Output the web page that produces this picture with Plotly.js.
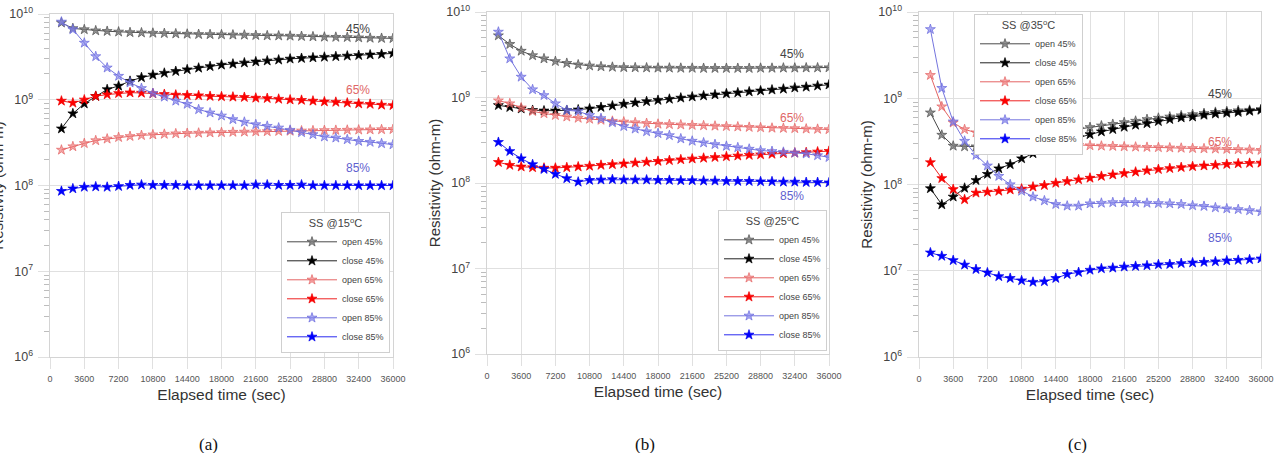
<!DOCTYPE html>
<html>
<head>
<meta charset="utf-8">
<script src="https://cdn.plot.ly/plotly-3.0.1.min.js"></script>
<style>
  html, body { margin: 0; padding: 0; background: #fff; overflow: hidden; }
  #chart { width: 1298px; height: 453px; margin-left: -20px; }
</style>
</head>
<body>
<div id="chart"></div>
<script>
// Sampling times (s)
const TIME = [1200, 2400, 3600, 4800, 6000, 7200, 8400, 9600, 10800, 12000,
  13200, 14400, 15600, 16800, 18000, 19200, 20400, 21600, 22800, 24000,
  25200, 26400, 27600, 28800, 30000, 31200, 32400, 33600, 34800, 36000];

const X_TICKS = [0, 3600, 7200, 10800, 14400, 18000, 21600, 25200, 28800, 32400, 36000];

// Resistivity (ohm-m), SS @15°C
const A_OPEN45 = [7.9e9, 6.8e9, 6.6e9, 6.4e9, 6.3e9, 6.2e9, 6.1e9, 6.05e9, 6.0e9, 5.95e9,
  5.9e9, 5.85e9, 5.8e9, 5.78e9, 5.75e9, 5.72e9, 5.7e9, 5.65e9, 5.6e9, 5.58e9,
  5.55e9, 5.5e9, 5.45e9, 5.4e9, 5.38e9, 5.35e9, 5.3e9, 5.25e9, 5.22e9, 5.2e9];
const A_CLOSE45 = [4.6e8, 6.9e8, 9.0e8, 1.1e9, 1.32e9, 1.45e9, 1.65e9, 1.82e9, 1.95e9, 2.05e9,
  2.15e9, 2.25e9, 2.35e9, 2.45e9, 2.55e9, 2.62e9, 2.7e9, 2.78e9, 2.85e9, 2.92e9,
  3.0e9, 3.05e9, 3.1e9, 3.15e9, 3.2e9, 3.25e9, 3.3e9, 3.35e9, 3.4e9, 3.47e9];
const A_OPEN65 = [2.6e8, 2.85e8, 3.1e8, 3.35e8, 3.5e8, 3.65e8, 3.75e8, 3.85e8, 3.92e8, 3.98e8,
  4.03e8, 4.07e8, 4.1e8, 4.13e8, 4.16e8, 4.2e8, 4.22e8, 4.25e8, 4.27e8, 4.3e8,
  4.32e8, 4.35e8, 4.37e8, 4.4e8, 4.42e8, 4.44e8, 4.46e8, 4.48e8, 4.5e8, 4.52e8];
const A_CLOSE65 = [9.7e8, 9.2e8, 1.0e9, 1.1e9, 1.15e9, 1.19e9, 1.21e9, 1.2e9, 1.18e9, 1.16e9,
  1.14e9, 1.13e9, 1.12e9, 1.1e9, 1.09e9, 1.08e9, 1.07e9, 1.05e9, 1.04e9, 1.02e9,
  1.0e9, 9.9e8, 9.7e8, 9.5e8, 9.4e8, 9.2e8, 9.0e8, 8.9e8, 8.7e8, 8.6e8];
const A_OPEN85 = [8.1e9, 6.6e9, 4.6e9, 3.2e9, 2.36e9, 1.89e9, 1.58e9, 1.36e9, 1.19e9, 1.08e9,
  9.7e8, 8.9e8, 7.7e8, 7.05e8, 6.5e8, 5.9e8, 5.5e8, 5.15e8, 4.93e8, 4.71e8,
  4.43e8, 4.16e8, 3.94e8, 3.7e8, 3.6e8, 3.44e8, 3.29e8, 3.21e8, 3.09e8, 3.0e8];
const A_CLOSE85 = [8.6e7, 9.2e7, 9.6e7, 9.7e7, 9.6e7, 9.8e7, 1.01e8, 1.02e8, 1.01e8, 1.01e8,
  1.01e8, 1.0e8, 1.0e8, 1.0e8, 1.0e8, 1.0e8, 1.0e8, 1.02e8, 1.02e8, 1.01e8,
  1.01e8, 1.02e8, 1.0e8, 1.0e8, 1.0e8, 1.0e8, 1.0e8, 1.0e8, 1.0e8, 1.0e8];

// Resistivity (ohm-m), SS @25°C
const B_OPEN45 = [5.3e9, 4.2e9, 3.5e9, 3.1e9, 2.85e9, 2.65e9, 2.52e9, 2.42e9, 2.35e9, 2.3e9,
  2.27e9, 2.25e9, 2.24e9, 2.23e9, 2.22e9, 2.22e9, 2.21e9, 2.21e9, 2.2e9, 2.2e9,
  2.2e9, 2.2e9, 2.2e9, 2.21e9, 2.21e9, 2.22e9, 2.22e9, 2.23e9, 2.23e9, 2.24e9];
const B_CLOSE45 = [8.1e8, 7.7e8, 7.4e8, 7.1e8, 7.0e8, 7.0e8, 7.1e8, 7.2e8, 7.4e8, 7.7e8,
  8.0e8, 8.4e8, 8.7e8, 9.0e8, 9.3e8, 9.6e8, 9.9e8, 1.02e9, 1.05e9, 1.08e9,
  1.11e9, 1.14e9, 1.17e9, 1.2e9, 1.23e9, 1.26e9, 1.3e9, 1.33e9, 1.37e9, 1.41e9];
const B_OPEN65 = [9.2e8, 8.5e8, 7.6e8, 6.9e8, 6.5e8, 6.2e8, 5.95e8, 5.75e8, 5.6e8, 5.45e8,
  5.3e8, 5.2e8, 5.1e8, 5.0e8, 4.9e8, 4.85e8, 4.8e8, 4.75e8, 4.7e8, 4.65e8,
  4.6e8, 4.55e8, 4.5e8, 4.45e8, 4.4e8, 4.38e8, 4.35e8, 4.3e8, 4.27e8, 4.23e8];
const B_CLOSE65 = [1.75e8, 1.62e8, 1.55e8, 1.52e8, 1.5e8, 1.5e8, 1.52e8, 1.55e8, 1.58e8, 1.62e8,
  1.65e8, 1.68e8, 1.72e8, 1.76e8, 1.8e8, 1.84e8, 1.88e8, 1.92e8, 1.96e8, 2.0e8,
  2.04e8, 2.08e8, 2.12e8, 2.15e8, 2.18e8, 2.22e8, 2.25e8, 2.28e8, 2.32e8, 2.36e8];
const B_OPEN85 = [5.85e9, 2.85e9, 1.74e9, 1.24e9, 1.06e9, 8.5e8, 7.1e8, 6.9e8, 6.2e8, 5.7e8,
  5.1e8, 4.6e8, 4.3e8, 4.0e8, 3.8e8, 3.6e8, 3.3e8, 3.1e8, 2.96e8, 2.83e8,
  2.7e8, 2.6e8, 2.5e8, 2.4e8, 2.35e8, 2.3e8, 2.25e8, 2.2e8, 2.1e8, 2.0e8];
const B_CLOSE85 = [3.0e8, 2.35e8, 1.93e8, 1.65e8, 1.45e8, 1.27e8, 1.13e8, 1.03e8, 1.08e8, 1.09e8,
  1.1e8, 1.09e8, 1.09e8, 1.09e8, 1.08e8, 1.08e8, 1.07e8, 1.07e8, 1.06e8, 1.06e8,
  1.05e8, 1.05e8, 1.05e8, 1.04e8, 1.04e8, 1.03e8, 1.03e8, 1.02e8, 1.02e8, 1.01e8];

// Resistivity (ohm-m), SS @35°C
const C_OPEN45 = [6.8e8, 3.75e8, 2.8e8, 2.75e8, 2.75e8, 2.8e8, 2.9e8, 3.1e8, 3.3e8, 3.5e8,
  3.75e8, 4.0e8, 4.2e8, 4.4e8, 4.6e8, 4.8e8, 5.0e8, 5.25e8, 5.45e8, 5.7e8,
  5.9e8, 6.1e8, 6.3e8, 6.5e8, 6.7e8, 6.9e8, 7.05e8, 7.2e8, 7.3e8, 7.45e8];
const C_CLOSE45 = [9.0e7, 5.85e7, 7.2e7, 9.1e7, 1.12e8, 1.32e8, 1.53e8, 1.71e8, 2.0e8, 2.29e8,
  2.67e8, 2.86e8, 3.19e8, 3.52e8, 3.81e8, 4.1e8, 4.36e8, 4.64e8, 4.9e8, 5.1e8,
  5.4e8, 5.7e8, 5.96e8, 6.1e8, 6.4e8, 6.6e8, 6.75e8, 6.9e8, 7.1e8, 7.3e8];
const C_OPEN65 = [1.85e9, 8.0e8, 5.2e8, 4.35e8, 4.0e8, 3.7e8, 3.48e8, 3.32e8, 3.2e8, 3.08e8,
  3.0e8, 2.94e8, 2.9e8, 2.86e8, 2.83e8, 2.8e8, 2.78e8, 2.75e8, 2.73e8, 2.71e8,
  2.69e8, 2.67e8, 2.65e8, 2.63e8, 2.61e8, 2.59e8, 2.57e8, 2.55e8, 2.53e8, 2.5e8];
const C_CLOSE65 = [1.8e8, 1.18e8, 8.8e7, 6.7e7, 8.0e7, 8.2e7, 8.4e7, 8.7e7, 8.9e7, 9.4e7,
  9.8e7, 1.04e8, 1.09e8, 1.14e8, 1.19e8, 1.25e8, 1.3e8, 1.35e8, 1.4e8, 1.45e8,
  1.5e8, 1.54e8, 1.58e8, 1.62e8, 1.65e8, 1.68e8, 1.72e8, 1.75e8, 1.77e8, 1.78e8];
const C_OPEN85 = [6.3e9, 1.31e9, 5.35e8, 3.19e8, 2.19e8, 1.65e8, 1.25e8, 1.0e8, 8.4e7, 7.2e7,
  6.5e7, 5.9e7, 5.65e7, 5.65e7, 6.0e7, 6.1e7, 6.2e7, 6.2e7, 6.2e7, 6.1e7,
  6.05e7, 6.0e7, 5.9e7, 5.7e7, 5.6e7, 5.4e7, 5.25e7, 5.15e7, 5.0e7, 4.85e7];
const C_CLOSE85 = [1.62e7, 1.48e7, 1.32e7, 1.17e7, 1.04e7, 9.5e6, 8.6e6, 8.2e6, 7.7e6, 7.4e6,
  7.5e6, 8.2e6, 9.1e6, 9.6e6, 1.02e7, 1.06e7, 1.08e7, 1.11e7, 1.13e7, 1.15e7,
  1.18e7, 1.19e7, 1.22e7, 1.24e7, 1.26e7, 1.28e7, 1.31e7, 1.33e7, 1.35e7, 1.38e7];

const SERIES_NAMES = ['open 45%', 'close 45%', 'open 65%', 'close 65%', 'open 85%', 'close 85%'];
const PANEL_TITLES = ['SS @15<sup>o</sup>C', 'SS @25<sup>o</sup>C', 'SS @35<sup>o</sup>C'];
const CAPTIONS = ['(a)', '(b)', '(c)'];
const RH_LABELS = ['45%', '65%', '85%'];

const PANELS = [
  [A_OPEN45, A_CLOSE45, A_OPEN65, A_CLOSE65, A_OPEN85, A_CLOSE85],
  [B_OPEN45, B_CLOSE45, B_OPEN65, B_CLOSE65, B_OPEN85, B_CLOSE85],
  [C_OPEN45, C_CLOSE45, C_OPEN65, C_CLOSE65, C_OPEN85, C_CLOSE85]
];

// Styles per series: line colour, marker fill, marker outline
const STYLES = [
  { line: '#4a4a4a', fill: 'rgba(120,120,120,0.8)', edge: '#505050' },
  { line: '#222222', fill: '#000000', edge: '#000000' },
  { line: '#e46464', fill: 'rgba(240,120,120,0.65)', edge: '#e46464' },
  { line: '#ee2222', fill: '#ff0000', edge: '#ee0000' },
  { line: '#7474de', fill: 'rgba(125,125,235,0.65)', edge: '#6868dc' },
  { line: '#2a2af0', fill: '#0000ff', edge: '#0000ee' }
];
const LABEL_COLORS = ['#444444', '#e06666', '#5f5fd0'];

// The figure is a little wider than the page and shifted left, so the
// first panel's y-axis title can sit partly beyond the left edge.
const SHIFT = 20;
const PAGE_W = 1278, H = 453;
const W = PAGE_W + SHIFT;
// Plot boxes in page pixels: [left, right, top, bottom]
const BOXES = [[50, 393, 14, 357], [487, 829, 12, 354], [919, 1261, 12, 357]];
const px = (v) => (v + SHIFT) / W;
const FONT = 'Arial, "Liberation Sans", sans-serif';

const traces = [];
const layout = {
  width: W, height: H,
  margin: { l: 0, r: 0, t: 0, b: 0, pad: 0 },
  paper_bgcolor: '#ffffff', plot_bgcolor: '#ffffff',
  font: { family: FONT, color: '#444' },
  showlegend: true,
  annotations: []
};

PANELS.forEach((series, p) => {
  const sfx = p === 0 ? '' : String(p + 1);
  const legendId = 'legend' + sfx;
  series.forEach((ys, i) => {
    const st = STYLES[i];
    traces.push({
      type: 'scatter', mode: 'lines+markers',
      x: TIME, y: ys, name: SERIES_NAMES[i],
      xaxis: 'x' + sfx, yaxis: 'y' + sfx,
      legend: legendId,
      line: { color: st.line, width: 1 },
      marker: { symbol: 'star', size: 7.5, color: st.fill, line: { color: st.edge, width: 0.7 } },
      hoverinfo: 'x+y+name'
    });
  });

  const [l, r, t, b] = BOXES[p];
  const common = {
    showline: true, mirror: true, linecolor: '#d4d4d4', linewidth: 1,
    showgrid: true, gridcolor: '#e0e0e0', gridwidth: 1,
    zeroline: false,
    ticks: 'outside', ticklen: 11, tickcolor: '#e0e0e0', tickwidth: 1,
    automargin: false
  };
  layout['xaxis' + sfx] = Object.assign({}, common, {
    domain: [px(l), px(r)], anchor: 'y' + sfx,
    range: [0, 36000], tickmode: 'array', tickvals: X_TICKS, ticktext: X_TICKS.map(String),
    tickfont: { size: 9, color: '#555' }, ticklabelstandoff: 2,
    title: { text: 'Elapsed time (sec)', font: { size: 15.5, color: '#333' }, standoff: 6 }
  });
  layout['yaxis' + sfx] = Object.assign({}, common, {
    domain: [1 - b / H, 1 - t / H], anchor: 'x' + sfx,
    type: 'log', range: [6, 10], dtick: 1, exponentformat: 'power',
    tickfont: { size: 10, color: '#444' }, ticklabelstandoff: 3,
    minor: { ticks: 'outside', ticklen: 5, tickcolor: '#bdbdbd', showgrid: false },
    title: { text: 'Resistivity (ohm-m)', font: { size: 15, color: '#333' }, standoff: 2 }
  });

  const legendBox = p === 0
    ? { x: px(390), y: 1 - 353 / H, xanchor: 'right', yanchor: 'bottom' }
    : p === 1
      ? { x: px(827), y: 1 - 351 / H, xanchor: 'right', yanchor: 'bottom' }
      : { x: px(974), y: 1 - 14 / H, xanchor: 'left', yanchor: 'top' };
  layout[legendId] = Object.assign(legendBox, {
    xref: 'paper', yref: 'paper',
    bgcolor: '#ffffff', bordercolor: '#cfcfcf', borderwidth: 1,
    font: { size: 9, color: '#444' },
    title: { text: PANEL_TITLES[p], side: 'top center', font: { size: 11, color: '#444' } },
    itemwidth: 50, tracegroupgap: 0
  });

  // RH level labels placed beside the curves
  const labelX = [32300, 32100, 31700][p];
  const labelY = [[9.825, 9.114, 8.204], [9.509, 8.76, 7.848], [9.049, 8.492, 7.378]][p];
  RH_LABELS.forEach((txt, k) => {
    layout.annotations.push({
      xref: 'x' + sfx, yref: 'y' + sfx, x: labelX, y: labelY[k],
      text: txt, showarrow: false,
      font: { size: 12, color: LABEL_COLORS[k], family: FONT }
    });
  });

  // Panel caption
  layout.annotations.push({
    xref: 'paper', yref: 'paper', x: px((l + r) / 2 - 13), y: 1 - 444 / H,
    text: CAPTIONS[p], showarrow: false, xanchor: 'center', yanchor: 'middle',
    font: { size: 17, color: '#111', family: '"Liberation Serif", "Times New Roman", serif' }
  });
});

Plotly.newPlot('chart', traces, layout, { displayModeBar: false, staticPlot: true });
</script>
</body>
</html>
